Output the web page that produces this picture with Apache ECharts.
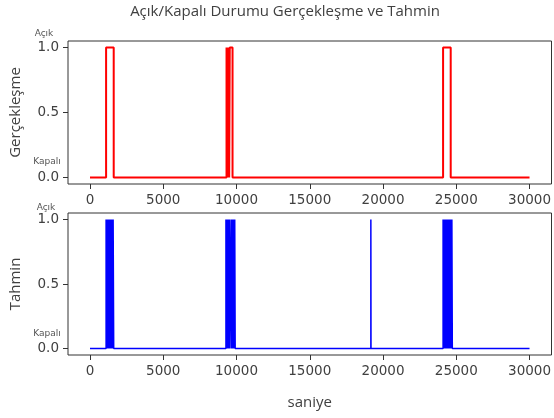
<!DOCTYPE html>
<html><head><meta charset="utf-8">
<script src="https://cdn.jsdelivr.net/npm/echarts@6/dist/echarts.min.js"></script>
<style>html,body{margin:0;padding:0;background:#fff}#c{width:554px;height:418px}</style>
</head><body><div id="c"></div>
<script>
// --- data ---
const xTicks = [0, 5000, 10000, 15000, 20000, 25000, 30000];
const yTicks = [0, 0.5, 1];
const tStart = 0, tEnd = 30000;
// intervals where the state is "Açık" (1)
const realOn = [[1100,1620],[9320,9390],[9450,9500],[9540,9730],[24100,24620]];
const predOn = [
  [1100,1130],[1160,1190],[1220,1250],[1280,1310],[1340,1370],[1400,1430],[1460,1490],[1520,1550],[1580,1620],
  [9280,9310],[9340,9370],[9400,9430],[9460,9490],[9520,9550],[9640,9670],[9700,9730],[9760,9790],[9820,9850],[9880,9910],
  [19170,19180],
  [24100,24130],[24160,24190],[24220,24250],[24280,24310],[24340,24370],[24400,24430],[24460,24490],[24520,24550],[24580,24610],[24640,24670],[24700,24730]
];

function toStep(on){
  const d=[[tStart,0]];
  on.forEach(([a,b])=>{d.push([a,0],[a,1],[b,1],[b,0]);});
  d.push([tEnd,0]);
  return d;
}

const chart = echarts.init(document.getElementById('c'), null, {renderer:'canvas'});
const gray = '#404040';
const tickFont = 'DejaVu Sans';
const nameFont = 'Open Sans';
function xAxis(i){
  return {gridIndex:i,type:'value',min:-1500,max:31500,
    axisLine:{show:false,onZero:false},splitLine:{show:false},
    axisTick:{show:true,customValues:xTicks,length:5,inside:false,lineStyle:{color:'#333'}},
    axisLabel:{customValues:xTicks,margin:9,color:gray,fontFamily:tickFont,fontSize:13.5,formatter:v=>String(v)},
    name: i===1?'saniye':'', nameLocation:'middle', nameGap:40,
    nameTextStyle:{color:gray,fontFamily:nameFont,fontSize:15}
  };
}
function yAxis(i,name){
  return {gridIndex:i,type:'value',min:-0.05,max:1.05,
    axisLine:{show:false,onZero:false},splitLine:{show:false},
    axisTick:{show:true,customValues:yTicks,length:5,lineStyle:{color:'#333'}},
    axisLabel:{customValues:yTicks,margin:9,color:gray,fontFamily:tickFont,fontSize:13.5,formatter:v=>v.toFixed(1)},
    name:name,nameLocation:'middle',nameGap:45,nameRotate:90,
    nameTextStyle:{color:gray,fontFamily:nameFont,fontSize:15}
  };
}
const small = {fill:'#555',font:'9px "DejaVu Sans"',textAlign:'center',textVerticalAlign:'middle'};
chart.setOption({
  animation:false,
  grid:[
    {left:68,top:41,width:485,height:143,show:true,borderColor:'#333',borderWidth:1,backgroundColor:'transparent'},
    {left:68,top:213,width:485,height:142,show:true,borderColor:'#333',borderWidth:1,backgroundColor:'transparent'}
  ],
  xAxis:[xAxis(0),xAxis(1)],
  yAxis:[yAxis(0,'Gerçekleşme'),yAxis(1,'Tahmin')],
  series:[
    {type:'line',xAxisIndex:0,yAxisIndex:0,data:toStep(realOn),showSymbol:false,lineStyle:{color:'#ff0000',width:2},silent:true},
    {type:'line',xAxisIndex:1,yAxisIndex:1,data:toStep(predOn),showSymbol:false,lineStyle:{color:'#0000ff',width:1.5},silent:true}
  ],
  graphic:[
    {type:'text',x:285,y:12,style:{text:'Açık/Kapalı Durumu Gerçekleşme ve Tahmin',fill:gray,font:'15px "Open Sans"',textAlign:'center',textVerticalAlign:'middle'}},
    {type:'text',x:44,y:34,style:Object.assign({text:'Açık'},small)},
    {type:'text',x:47,y:162,style:Object.assign({text:'Kapalı'},small)},
    {type:'text',x:46,y:208,style:Object.assign({text:'Açık'},small)},
    {type:'text',x:47,y:334,style:Object.assign({text:'Kapalı'},small)}
  ]
});
</script></body></html>
